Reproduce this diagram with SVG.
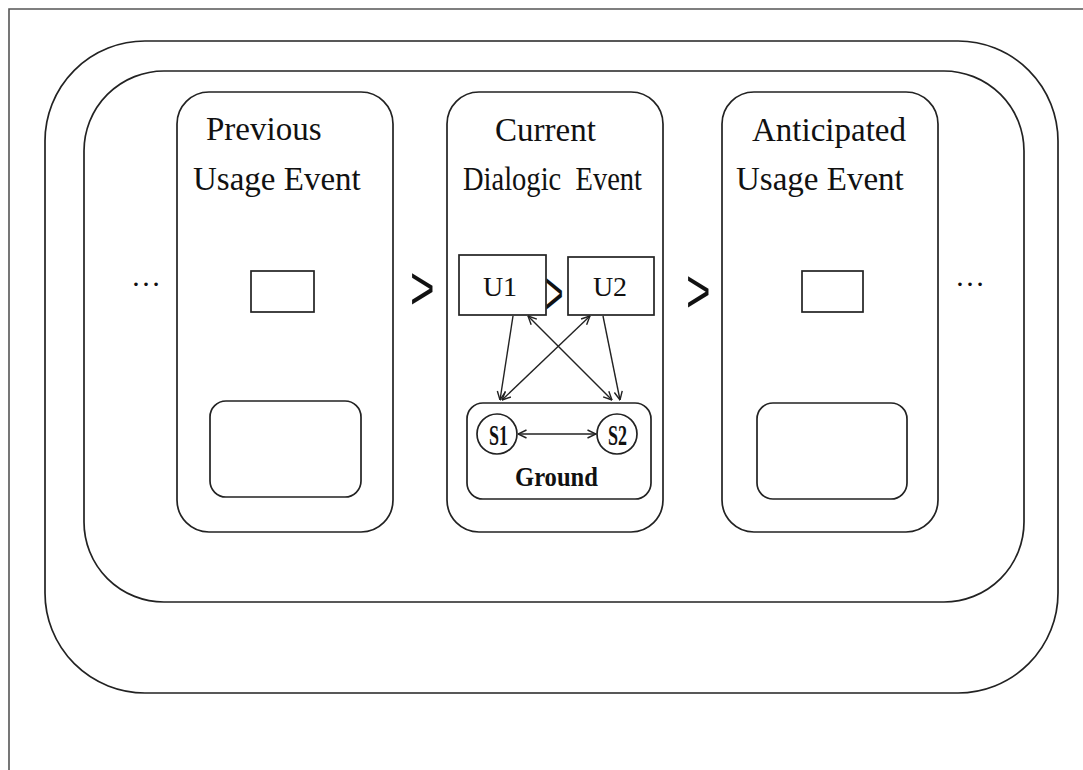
<svg xmlns="http://www.w3.org/2000/svg" width="1083" height="770" viewBox="0 0 1083 770">
<defs>
<style>
.box{fill:none;stroke:#222;stroke-width:1.7}
.frame{fill:none;stroke:#555;stroke-width:1.6}
.t{font-family:"Liberation Serif","Times New Roman",serif;font-size:33px;fill:#111}
.u{font-family:"Liberation Serif","Times New Roman",serif;font-size:28px;fill:#111;text-anchor:middle}
.s{font-family:"Liberation Serif","Times New Roman",serif;font-weight:bold;fill:#111}
.chev{font-family:"Liberation Sans",Arial,sans-serif;font-size:42px;fill:#111}
.dots{font-family:"Liberation Serif","Times New Roman",serif;font-size:30px;fill:#111}
.c{stroke:#222;stroke-width:1.4;fill:none}
</style>
<marker id="ah" viewBox="0 0 10 10" refX="9.5" refY="5" markerWidth="10" markerHeight="10" markerUnits="userSpaceOnUse" orient="auto-start-reverse">
<path d="M1,1 L9.5,5 L1,9" fill="none" stroke="#222" stroke-width="1.4"/>
</marker>
</defs>
<rect width="1083" height="770" fill="#fff"/>
<g id="frame">
<path class="frame" d="M9,770 L9,9 L1083,9"/>
</g>
<g id="outer">
<rect class="box" x="45" y="41" width="1013" height="652" rx="100" ry="100"/>
</g>
<g id="inner">
<rect class="box" x="84" y="71" width="940" height="531" rx="80" ry="80"/>
</g>
<g id="previous">
<rect class="box" x="177" y="92" width="216" height="440" rx="32" ry="32"/>
<text class="t" x="206" y="140">Previous</text>
<text class="t" x="193" y="190">Usage Event</text>
<rect class="box" x="251" y="271" width="63" height="41"/>
<rect class="box" x="210" y="401" width="151" height="96" rx="16" ry="16"/>
</g>
<g id="current">
<rect class="box" x="447" y="92" width="216" height="440" rx="32" ry="32"/>
<text class="t" x="495" y="141">Current</text>
<text class="t" x="463" y="190" textLength="179" lengthAdjust="spacingAndGlyphs" xml:space="preserve" style="white-space:pre">Dialogic  Event</text>
</g>
<g id="u1">
<rect class="box" x="459" y="255" width="87" height="60"/>
<text class="u" x="500" y="296">U1</text>
</g>
<g id="u2">
<rect class="box" x="568" y="257" width="86" height="58"/>
<text class="u" x="610" y="296">U2</text>
</g>
<g id="ground">
<rect class="box" x="467" y="403" width="184" height="96" rx="16" ry="16"/>
<text class="s" x="515" y="486" font-size="28" textLength="83" lengthAdjust="spacingAndGlyphs">Ground</text>
</g>
<g id="s1">
<circle class="box" cx="497" cy="434" r="20"/>
<text class="s" x="489" y="445" font-size="30" textLength="19" lengthAdjust="spacingAndGlyphs">S1</text>
</g>
<g id="s2">
<circle class="box" cx="617" cy="434" r="20"/>
<text class="s" x="608" y="445" font-size="30" textLength="19" lengthAdjust="spacingAndGlyphs">S2</text>
</g>
<g id="anticipated">
<rect class="box" x="722" y="92" width="216" height="440" rx="32" ry="32"/>
<text class="t" x="752" y="141">Anticipated</text>
<text class="t" x="736" y="190">Usage Event</text>
<rect class="box" x="802" y="271" width="61" height="41"/>
<rect class="box" x="757" y="403" width="150" height="96" rx="16" ry="16"/>
</g>
<g id="symbols">
<text class="dots" x="131" y="286">…</text>
<text class="dots" x="955" y="286">…</text>
<text class="chev" transform="translate(410,309) scale(1,1.47)">&gt;</text>
<text class="chev" transform="translate(686,312) scale(1,1.47)">&gt;</text>
<text class="chev" transform="translate(545,314) scale(0.75,1.47)">&gt;</text>
</g>
<g id="connectors">
<line class="c" x1="513" y1="316" x2="500" y2="400" marker-end="url(#ah)"/>
<line class="c" x1="528" y1="316" x2="612" y2="400" marker-start="url(#ah)" marker-end="url(#ah)"/>
<line class="c" x1="590" y1="316" x2="502" y2="400" marker-start="url(#ah)" marker-end="url(#ah)"/>
<line class="c" x1="603" y1="316" x2="620" y2="400" marker-end="url(#ah)"/>
<line class="c" x1="518" y1="434" x2="596" y2="434" marker-start="url(#ah)" marker-end="url(#ah)"/>
</g>
</svg>
